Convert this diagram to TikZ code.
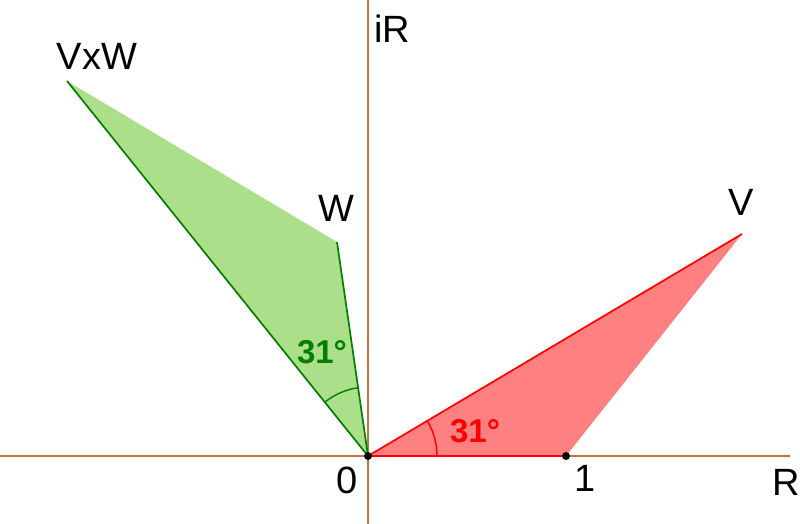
\documentclass[tikz,border=0pt]{standalone}
\usepackage{fontspec}
\setmainfont{Liberation Sans}
\definecolor{axiscol}{RGB}{192,120,64}
\definecolor{gfill}{RGB}{171,223,138}
\definecolor{gline}{RGB}{0,128,0}
\definecolor{rfill}{RGB}{255,128,128}
\definecolor{rline}{RGB}{255,0,0}
\tikzset{
  axis/.style={draw=axiscol, line width=1.2pt},
  lbl/.style={inner sep=0pt, font=\fontsize{38}{38}\selectfont},
  anglbl/.style={inner sep=0pt, font=\fontsize{33}{33}\selectfont\bfseries},
  dotpt/.style={circle, fill=black, inner sep=0pt, minimum size=8pt},
  edge/.style={line width=1.7pt}
}
\begin{document}
\begin{tikzpicture}[x=1pt,y=-1pt]
\useasboundingbox (0,0) rectangle (800,524);
% coordinates
\coordinate (O) at (368,456);
\coordinate (E) at (566,456);
\coordinate (V) at (742,234);
\coordinate (W) at (337,242);
\coordinate (VW) at (67,81);
\coordinate (xl) at (0,456);
\coordinate (xr) at (790,456);
\coordinate (yt) at (368,0);
\coordinate (yb) at (368,524);
% fills
\fill[gfill] (O) -- (VW) -- (W) -- cycle;
\fill[rfill] (O) -- (V) -- (E) -- cycle;
% axes
\draw[axis] (xl) -- (xr);
\draw[axis] (yt) -- (yb);
% edges
\draw[edge, gline] (O) -- (VW);
\draw[edge, gline] (O) -- (W);
\draw[edge, rline] (O) -- (V);
\draw[edge, rline] (O) -- (E);
% angle arcs
\draw[gline, line width=1.4pt] ([shift={(-128.75:69)}]O) arc[start angle=-128.75, end angle=-98.24, radius=69];
\draw[rline, line width=1.4pt] ([shift={(0:69)}]O) arc[start angle=0, end angle=-30.7, radius=69];
% points
\node[dotpt] (o) at (O) {};
\node[dotpt] (e) at (E) {};
% labels
\node[lbl] (liR) at (392,29) {iR};
\node[lbl] (lVW) at (97,56) {VxW};
\node[lbl] (lW) at (336,208) {W};
\node[lbl] (lV) at (741,202) {V};
\node[lbl] (l1) at (585,478) {1};
\node[lbl] (lR) at (786,482) {R};
\node[lbl] (l0) at (347,480) {0};
\node[anglbl, text=gline] (ag) at (322,352) {31°};
\node[anglbl, text=rline] (ar) at (475,431) {31°};
\end{tikzpicture}
\end{document}
